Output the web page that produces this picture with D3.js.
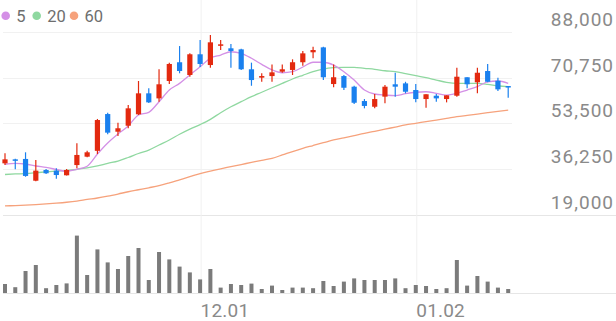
<!DOCTYPE html>
<html>
<head>
<meta charset="utf-8">
<script src="https://cdn.jsdelivr.net/npm/d3@7"></script>
<style>
  html, body { margin: 0; padding: 0; background: #fff; }
  svg { display: block; font-family: Roboto, sans-serif; }
</style>
</head>
<body>
<div id="chart"></div>
<script>
// trading days shown on the chart
var dates = ["11.04","11.07","11.08","11.09","11.10","11.11","11.14","11.15","11.16","11.17",
  "11.18","11.21","11.22","11.23","11.24","11.25","11.28","11.29","11.30","12.01",
  "12.02","12.05","12.06","12.07","12.08","12.09","12.12","12.13","12.14","12.15",
  "12.16","12.19","12.20","12.21","12.22","12.23","12.26","12.27","12.28","12.29",
  "01.02","01.03","01.04","01.05","01.06","01.09","01.10","01.11","01.12","01.13"];

var opens = [38450,39950,40100,31900,35950,35700,33950,37800,40950,43150,
  57000,50350,52600,56900,64800,62900,69450,76500,71700,79500,
  75450,82700,81750,81350,73850,70700,71300,72950,73600,76500,
  80250,82100,68300,71300,67300,61900,59750,63550,68200,68550,
  66050,62650,63900,62650,63900,70850,68950,73200,69550,67550];
var highs = [42200,40200,42600,39700,36300,36600,36300,46000,43200,55150,
  57500,53750,60400,69450,66700,73850,76350,82600,79850,84850,
  86750,84850,83350,81600,76350,72350,75700,75700,77600,80750,
  82350,82350,75700,71700,67650,62650,64550,67950,72550,69150,
  68300,64450,64550,64050,74450,70850,74450,75850,70700,67550];
var lows = [37800,36200,33400,31700,34450,32650,33900,36600,40700,41950,
  49400,48750,51650,56650,61150,61650,68300,72350,71050,74700,
  74450,81100,74450,73600,67650,69150,69150,72550,71700,75200,
  78000,69800,67050,66050,60800,59150,59150,61050,63550,64800,
  61400,59400,61650,61400,63550,66700,64800,68950,65650,63150];
var closes = [39950,39450,33700,35700,34700,34050,35950,41600,42600,54750,
  50000,51650,59150,64800,61400,68200,75850,73200,79500,75850,
  84000,83250,80750,73850,69800,71300,72700,73850,76500,79850,
  81100,70850,70850,66900,61250,60050,62650,67300,67300,65400,
  62650,64450,62900,64050,71050,68200,72550,69150,66300,67050];

// moving averages
var ma5 = [38100,38400,38200,37450,36900,36150,35400,36200,37350,41950,
  46100,49500,52500,56650,57650,61650,66050,68550,71700,74800,
  78000,79200,80450,79850,78000,75700,73600,72550,72950,74700,
  76500,76500,75450,72950,69800,66050,64550,64150,63900,64650,
  65200,65400,64800,64150,64800,66050,67300,69150,69450,68550];
var ma20 = [34250,34450,34600,34900,35250,35550,35800,36200,36700,37450,
  38450,39300,40650,42150,43450,45350,47250,49400,51350,53050,
  55000,57500,59750,61650,63550,65200,66900,68550,70200,71600,
  72950,73950,74450,74600,74600,74200,73850,73300,72950,72200,
  71450,70700,69800,68950,68550,68550,68550,68200,67650,67300];
var ma60 = [22400,22550,22700,22900,23150,23450,23800,24250,24850,25400,
  26100,26900,27750,28500,29250,30050,31100,32250,33400,34600,
  35550,36400,37200,38000,38800,39600,40350,41600,42900,44100,
  45150,46200,47250,48050,48900,49750,50500,51300,52100,52900,
  53500,54150,54750,55350,56000,56500,57000,57500,58000,58500];

// volume (thousand shares)
var volumes = [450,290,1100,1400,240,400,480,2870,900,2180,
  1530,1200,1850,2250,650,2050,1680,1320,1030,680,
  1200,270,450,400,470,200,370,150,270,270,
  240,600,350,570,730,650,650,650,730,240,
  400,350,200,240,1650,370,850,570,270,200];

var priceTicks = [19000, 36250, 53500, 70750, 88000];
var dateTicks = ["12.01", "01.02"];
var maNames = ["5", "20", "60"];
var maColors = ["#d490e6", "#8fd8a0", "#f6a27c"];

var upColor = "#e3290f";
var downColor = "#1a80ee";

var width = 616;
var height = 321;

var svg = d3
  .select("#chart")
  .append("svg")
  .attr("width", width)
  .attr("height", height);

var x = d3.scalePoint().domain(dates).range([5, 508.2]);
var y = d3.scaleLinear().domain([19000, 88000]).range([215, 31.7]);
var yVol = d3.scaleLinear().domain([0, 3400]).range([293, 225]);

// horizontal grid
svg
  .append("g")
  .selectAll("line")
  .data(priceTicks)
  .enter()
  .append("line")
  .attr("x1", 3)
  .attr("x2", (d) => (d === priceTicks[0] ? width : 512))
  .attr("y1", (d) => Math.round(y(d)) + 0.5)
  .attr("y2", (d) => Math.round(y(d)) + 0.5)
  .attr("stroke", (d) => (d === priceTicks[0] ? "#e6e6e6" : "#f1f1f1"))
  .attr("stroke-width", 1);

// volume baseline
svg
  .append("line")
  .attr("x1", 3)
  .attr("x2", width)
  .attr("y1", yVol(0) + 0.5)
  .attr("y2", yVol(0) + 0.5)
  .attr("stroke", "#e6e6e6");

// x axis: vertical grid + date labels
var xAxis = svg
  .append("g")
  .call(d3.axisBottom(x).tickValues(dateTicks).tickSize(293).tickPadding(0));
xAxis.select(".domain").remove();
xAxis.selectAll("line").attr("stroke", "#f1f1f1").attr("transform", "translate(0.5,0)");
xAxis
  .selectAll("text")
  .attr("y", 316.5)
  .attr("dy", null)
  .attr("x", 0)
  .attr("text-anchor", "start")
  .attr("fill", "#8a8a8a")
  .style("font-family", "Roboto, sans-serif")
  .style("font-size", "19px")
  .style("letter-spacing", "0.2px");

// y axis labels on the right
var yAxis = svg
  .append("g")
  .attr("transform", "translate(614,0)")
  .call(
    d3
      .axisLeft(y)
      .tickValues(priceTicks)
      .tickFormat(d3.format(","))
      .tickSize(0)
      .tickPadding(0)
  );
yAxis.select(".domain").remove();
yAxis
  .selectAll("text")
  .attr("x", 0)
  .attr("y", -6.5)
  .attr("dy", null)
  .attr("fill", "#8a8a8a")
  .style("font-family", "Roboto, sans-serif")
  .style("font-size", "19px")
  .style("letter-spacing", "1px");

// volume bars
svg
  .append("g")
  .selectAll("rect")
  .data(volumes)
  .enter()
  .append("rect")
  .attr("x", (d, i) => x(dates[i]) - 2)
  .attr("y", (d) => yVol(d))
  .attr("width", 4)
  .attr("height", (d) => yVol(0) - yVol(d))
  .attr("fill", "#7b7b7b");

// moving average lines
var maSeries = [ma60, ma20, ma5];
var maLineColors = [maColors[2], maColors[1], maColors[0]];
var line = d3
  .line()
  .x((d, i) => x(dates[i]))
  .y((d) => y(d))
  .curve(d3.curveMonotoneX);

svg
  .append("g")
  .selectAll("path")
  .data(maSeries)
  .enter()
  .append("path")
  .attr("d", (d) => line(d))
  .attr("fill", "none")
  .attr("stroke", (d, i) => maLineColors[i])
  .attr("stroke-width", 1.3);

// candles
var candles = svg
  .append("g")
  .selectAll("g")
  .data(dates)
  .enter()
  .append("g");

candles
  .append("line")
  .attr("x1", (d) => x(d))
  .attr("x2", (d) => x(d))
  .attr("y1", (d, i) => y(highs[i]))
  .attr("y2", (d, i) => y(lows[i]))
  .attr("stroke", (d, i) => (closes[i] >= opens[i] ? upColor : downColor))
  .attr("stroke-width", 1.2);

candles
  .append("rect")
  .attr("x", (d) => x(d) - 2.6)
  .attr("y", (d, i) => y(Math.max(opens[i], closes[i])))
  .attr("width", 5.2)
  .attr("height", (d, i) =>
    Math.max(1.5, Math.abs(y(opens[i]) - y(closes[i])))
  )
  .attr("fill", (d, i) => (closes[i] >= opens[i] ? upColor : downColor));

// legend
var legendX = [5.7, 36.7, 74];
var legend = svg
  .append("g")
  .selectAll("g")
  .data(maNames)
  .enter()
  .append("g")
  .attr("transform", (d, i) => "translate(" + legendX[i] + ",15.7)");

legend
  .append("circle")
  .attr("r", 4.3)
  .attr("fill", (d, i) => maColors[i]);

legend
  .append("text")
  .attr("x", 10.5)
  .attr("y", 6)
  .attr("fill", "#6e6e6e")
  .style("font-size", "16.5px")
  .text((d) => d);
</script>
</body>
</html>
